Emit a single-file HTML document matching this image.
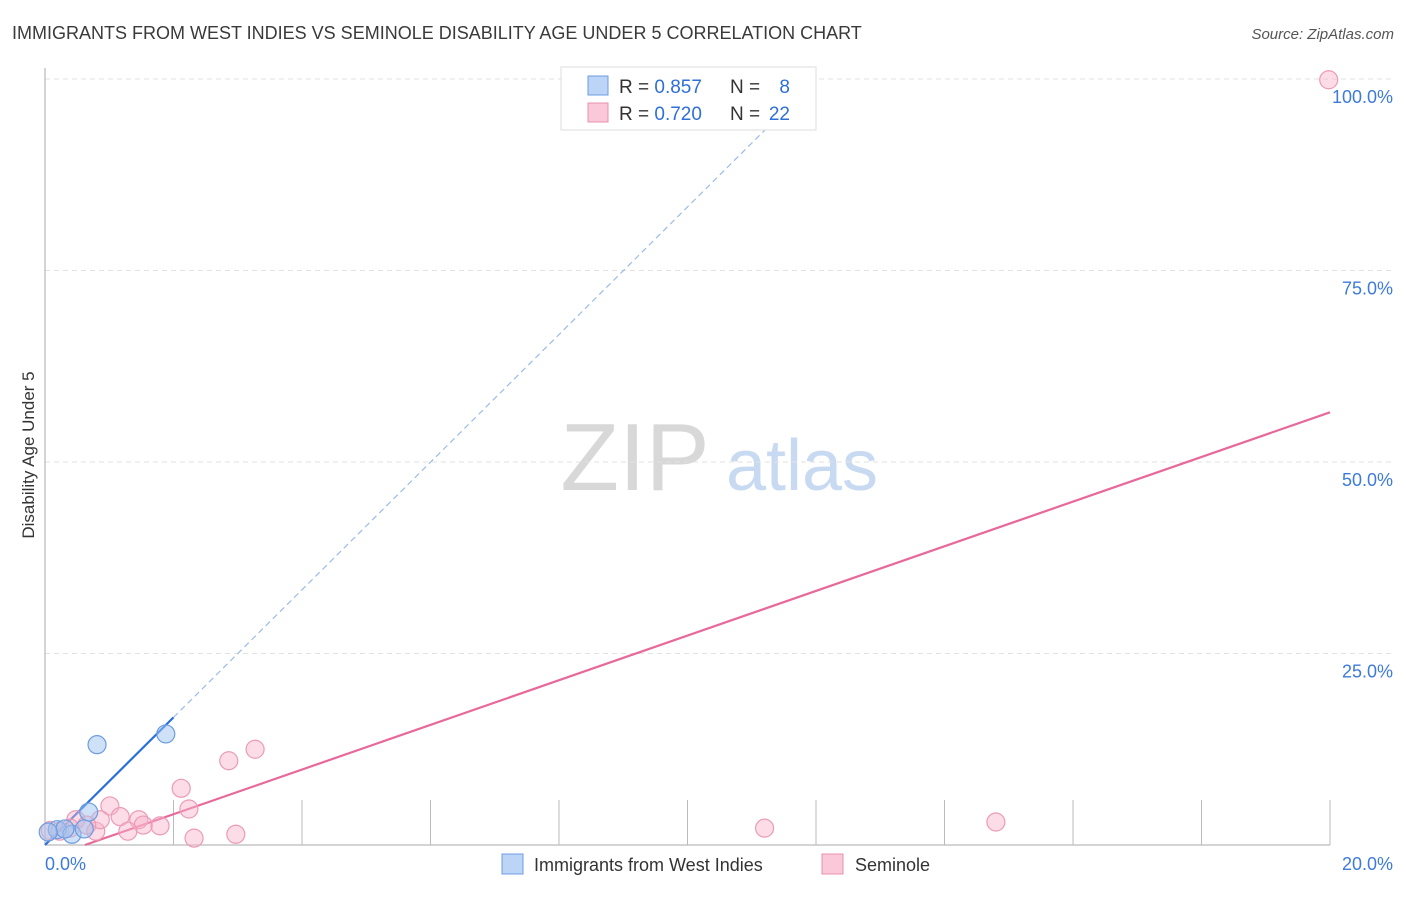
<!DOCTYPE html>
<html><head><meta charset="utf-8">
<style>
body{margin:0;background:#fff;font-family:"Liberation Sans",sans-serif;}
svg text{font-family:"Liberation Sans",sans-serif;}
</style></head>
<body>
<svg id="chart" width="1406" height="892" xmlns="http://www.w3.org/2000/svg">
<text x="12" y="39" font-size="18" fill="#3a3a3a">IMMIGRANTS FROM WEST INDIES VS SEMINOLE DISABILITY AGE UNDER 5 CORRELATION CHART</text>
<text x="1394" y="39" font-size="15" fill="#555" text-anchor="end" font-style="italic">Source: ZipAtlas.com</text>
<text transform="translate(34,455) rotate(-90)" font-size="17" fill="#333" text-anchor="middle">Disability Age Under 5</text>
<g>
<text x="635" y="490" font-size="96" fill="#d8d8d8" text-anchor="middle" font-family="Liberation Serif">ZIP</text>
<text x="802" y="490" font-size="72" fill="#c8daf2" text-anchor="middle">atlas</text>
</g>
<g id="grid"></g><g id="axes"></g><g id="lines"></g><g id="pts"></g>
<g>
<rect x="561" y="67" width="255" height="63" fill="#fff" stroke="#ddd"/>
<rect x="588" y="76" width="20" height="19" fill="#bcd4f6" stroke="#6c9de0"/>
<rect x="588" y="103" width="20" height="19" fill="#fac8d8" stroke="#e990ab"/>
<text x="619" y="93" font-size="19" fill="#333">R = <tspan fill="#2f6fd6">0.857</tspan></text>
<text x="730" y="93" font-size="19" fill="#333">N =</text><text x="790" y="93" font-size="19" fill="#2f6fd6" text-anchor="end">8</text>
<text x="619" y="120" font-size="19" fill="#333">R = <tspan fill="#2f6fd6">0.720</tspan></text>
<text x="730" y="120" font-size="19" fill="#333">N =</text><text x="790" y="120" font-size="19" fill="#2f6fd6" text-anchor="end">22</text>
</g>
<g>
<rect x="502" y="854" width="21" height="20" fill="#bcd4f6" stroke="#6c9de0"/>
<text x="534" y="871" font-size="18" fill="#333">Immigrants from West Indies</text>
<rect x="822" y="854" width="21" height="20" fill="#fac8d8" stroke="#e990ab"/>
<text x="855" y="871" font-size="18" fill="#333">Seminole</text>
</g>
</svg>
<script>
const xTicks=[0,20];
const yTicks=[25,50,75,100];
const blueX=[0.81,1.88,0.68,0.19,0.42,0.61,0.31,0.05];
const blueY=[13.1,14.5,4.3,2.0,1.4,2.1,2.1,1.7];
const pinkX=[19.98,3.27,2.86,2.12,2.24,1.01,1.17,1.46,1.53,1.79,1.29,0.79,0.48,0.86,2.32,2.97,11.2,14.8,0.08,0.23,0.39,0.65];
const pinkY=[99.9,12.5,11.0,7.4,4.7,5.1,3.7,3.3,2.6,2.5,1.8,1.8,3.3,3.3,0.9,1.4,2.2,3.0,1.9,1.8,2.2,2.6];
const blueFit=[0,8.33];
const pinkFit=[-1.81,2.915];
const blueSolidEnd=2.0;
const X0=45,X1=1330,Y0=845,Y1=79;
const sx=v=>X0+(v-0)/20*(X1-X0);
const sy=v=>Y0-(v/100)*(Y0-Y1);
const NS="http://www.w3.org/2000/svg";
function mk(t,a,p){const e=document.createElementNS(NS,t);for(const k in a)e.setAttribute(k,a[k]);p.appendChild(e);return e;}
const grid=document.getElementById('grid'),axes=document.getElementById('axes'),lines=document.getElementById('lines'),pts=document.getElementById('pts');
yTicks.forEach(t=>{
 const l=mk('line',{x1:X0,x2:1395,y1:sy(t),y2:sy(t),stroke:'#e2e2e2','stroke-dasharray':'5,4'},grid);
 
 
 const tx=mk('text',{x:1393,y:sy(t)+24,'font-size':18,fill:'#3d7bd8','text-anchor':'end'},axes);
 tx.textContent=t.toFixed(1)+'%';
 
 
});
const ax=mk('line',{x1:X0,x2:X1,y1:Y0,y2:Y0,stroke:'#aaa'},axes);


const ay=mk('line',{x1:X0,x2:X0,y1:68,y2:Y0,stroke:'#aaa'},axes);


for(let i=1;i<=10;i++){const x=X0+i*(X1-X0)/10;
 const tk=mk('line',{x1:x,x2:x,y1:Y0-45,y2:Y0,stroke:'#bbb'},axes);
 
 }
xTicks.forEach((t,i)=>{
 const tx=mk('text',{x:i?1393:45,y:870,'font-size':18,fill:'#3d7bd8','text-anchor':i?'end':'start'},axes);
 tx.textContent=t.toFixed(1)+'%';
 
 
});
const bf=x=>blueFit[0]+blueFit[1]*x, pf=x=>pinkFit[0]+pinkFit[1]*x;
const bxTop=(100-blueFit[0])/blueFit[1];
const bl=mk('line',{x1:sx(0),y1:sy(bf(0)),x2:sx(blueSolidEnd),y2:sy(bf(blueSolidEnd)),stroke:'#2a6fdb','stroke-width':2.2},lines);


const bd=mk('line',{x1:sx(blueSolidEnd),y1:sy(bf(blueSolidEnd)),x2:sx(bxTop),y2:sy(100),stroke:'#9bbbe8','stroke-width':1.2,'stroke-dasharray':'6,4'},lines);


const px0=-pinkFit[0]/pinkFit[1];
const pl=mk('line',{x1:sx(px0),y1:sy(0),x2:sx(20),y2:sy(pf(20)),stroke:'#e8689a','stroke-width':2.2},lines);


pinkX.forEach((v,i)=>{
 const c=mk('circle',{cx:sx(v),cy:sy(pinkY[i]),r:9,fill:'rgba(248,180,202,0.45)',stroke:'#ec9ab6','stroke-width':1.2},pts);
 
 
});
blueX.forEach((v,i)=>{
 const c=mk('circle',{cx:sx(v),cy:sy(blueY[i]),r:9,fill:'rgba(160,195,240,0.5)',stroke:'#6c9de0','stroke-width':1.2},pts);
 
 
});
</script>
</body></html>
